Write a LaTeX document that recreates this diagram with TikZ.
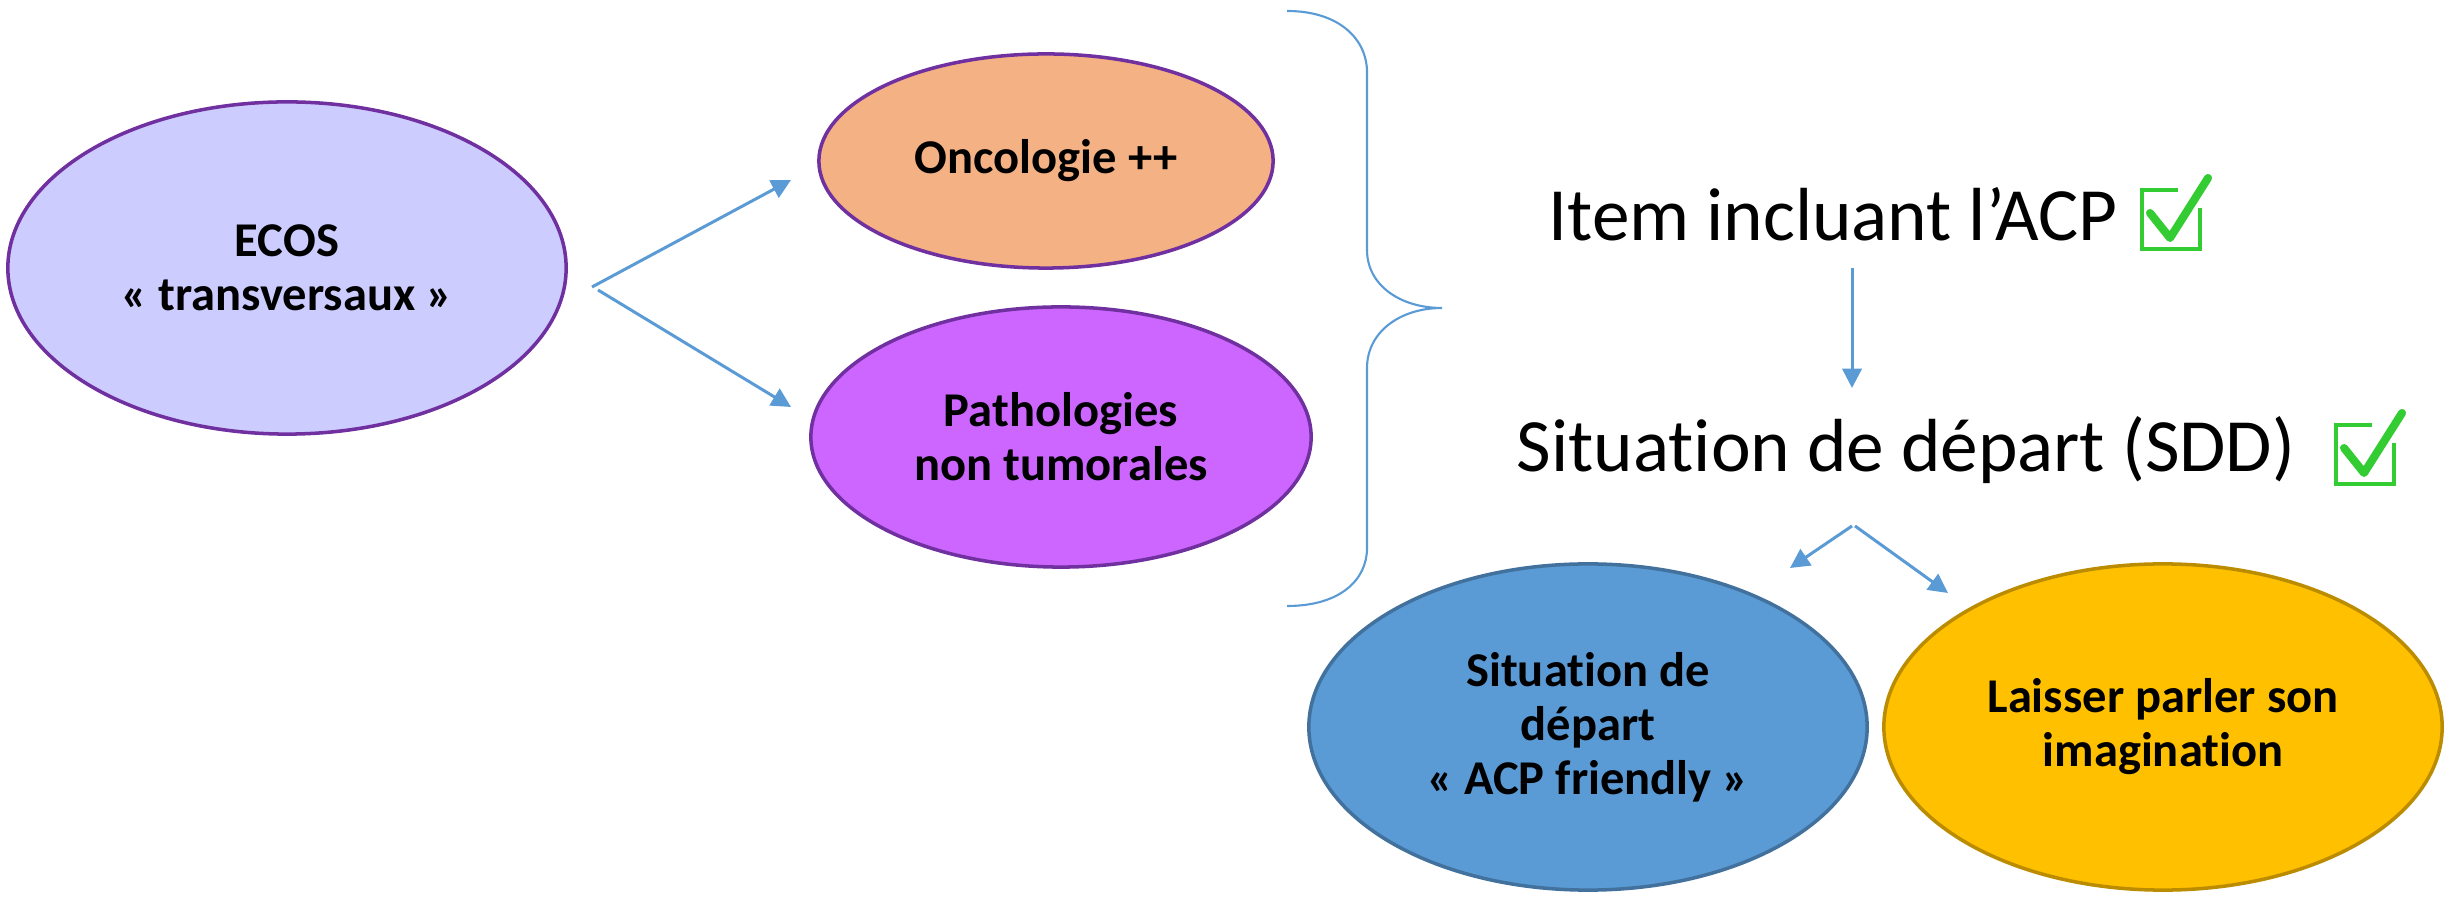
\documentclass[tikz,border=0pt]{standalone}
\usepackage{fontspec}
\setmainfont{Carlito}[Ligatures=NoCommon]
\usetikzlibrary{shapes.geometric,arrows.meta}
\definecolor{arrowblue}{HTML}{5B9BD5}
\definecolor{edgepurple}{HTML}{7030A0}
\definecolor{lavender}{HTML}{CCCCFF}
\definecolor{salmon}{HTML}{F4B183}
\definecolor{violet}{HTML}{CC66FF}
\definecolor{skyfill}{HTML}{5B9BD5}
\definecolor{skyedge}{HTML}{41719C}
\definecolor{goldfill}{HTML}{FFC000}
\definecolor{goldedge}{HTML}{BC8C00}
\definecolor{checkgreen}{HTML}{33CC33}
\tikzset{
  bubble/.style={ellipse, inner sep=0pt, line width=1pt, align=center, font=\fontsize{13.8}{15.4}\selectfont\bfseries},
  flow/.style={draw=arrowblue, line width=0.85pt, -{Triangle[length=5.5pt,width=5.5pt]}},
  bigtext/.style={inner sep=0pt, font=\fontsize{21.4}{25}\selectfont},
  tick/.pic={
    \draw[checkgreen, line width=0.9pt] (36,0) -- (0,0) -- (0,59) -- (58,59) -- (58,18);
    \draw[checkgreen, line width=2.3pt, line cap=round, line join=round] (8,23) -- (28,48) -- (66,-12);
  }
}
\begin{document}
\begin{tikzpicture}[x=0.01cm, y=-0.01cm]
  \useasboundingbox (0,0) rectangle (2455,901);

  % ellipses
  \node[bubble, draw=edgepurple, fill=lavender, minimum width=5.58cm, minimum height=3.32cm] (ecos) at (287,268) {ECOS\\« transversaux »};
  \node[bubble, draw=edgepurple, fill=salmon, minimum width=4.54cm, minimum height=2.14cm] (onco) at (1046,161) {Oncologie ++};
  \node[bubble, draw=edgepurple, fill=violet, minimum width=5.0cm, minimum height=2.6cm] (patho) at (1061,437) {Pathologies\\non tumorales};
  \node[bubble, draw=skyedge, fill=skyfill, minimum width=5.58cm, minimum height=3.26cm] (sdd) at (1588,727) {Situation de\\départ\\« ACP friendly »};
  \node[bubble, draw=goldedge, fill=goldfill, minimum width=5.58cm, minimum height=3.26cm] (imag) at (2163,727) {Laisser parler son\\imagination};

  % large statements
  \node[bigtext] (item) at (1833,214) {Item incluant l’ACP};
  \node[bigtext] (start) at (1906,450) {Situation de départ (SDD)};
  \pic at (2142,190) {tick};
  \pic at (2336,425) {tick};

  % arrows
  \coordinate (e1) at (592,287);
  \coordinate (e2) at (598,290);
  \coordinate (o1) at (791,180);
  \coordinate (p1) at (791,407);
  \draw[flow] (e1) -- (o1);
  \draw[flow] (e2) -- (p1);

  \coordinate (i1) at (1852,268);
  \coordinate (s1) at (1852,388);
  \draw[flow] (i1) -- (s1);

  \coordinate (f1) at (1852,526);
  \coordinate (f2) at (1855,526);
  \coordinate (d1) at (1790,568);
  \coordinate (d2) at (1948,593);
  \draw[flow] (f1) -- (d1);
  \draw[flow] (f2) -- (d2);

  % grouping brace
  \draw[arrowblue, line width=0.6pt]
    (1287,11) .. controls (1340,11) and (1367,40) .. (1367,72)
    -- (1367,250) .. controls (1367,285) and (1400,308) .. (1442,308)
    .. controls (1400,308) and (1367,332) .. (1367,368)
    -- (1367,548) .. controls (1367,580) and (1340,606) .. (1287,606);
\end{tikzpicture}
\end{document}
